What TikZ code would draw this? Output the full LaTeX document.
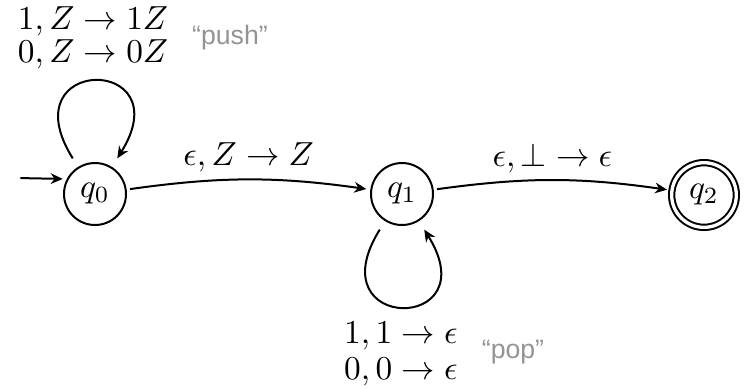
\documentclass[tikz,border=0pt]{standalone}
\usepackage{fontspec}
\newfontfamily\notefont{Liberation Sans}
\usetikzlibrary{arrows.meta}
\begin{document}
\begin{tikzpicture}[x=0.3pt,y=-0.3pt,line width=0.6pt,
  state/.style={draw,circle,minimum size=18.6pt,inner sep=0pt},
  accept/.style={state,double,double distance=1pt,minimum size=19.4pt},
  trans/.style={draw,-{Stealth[length=3.6pt,width=3.2pt]},shorten >=1.2pt,shorten <=1pt},
  note/.style={font=\notefont\footnotesize,text=black!42}]%
% pushdown automaton, positions in pixels of the sketch
\useasboundingbox (0,0) rectangle (745,388);
\node[state] (q0) at (95,194) {$q_0$};
\node[state] (q1) at (402,194) {$q_1$};
\node[accept] (q2) at (704,195) {$q_2$};
\coordinate (start) at (17,178);
\draw[trans] (start) -- (q0.152);
\path (q0) edge[trans,bend left=8] node[above,inner sep=2pt] {$\epsilon, Z \to Z$} (q1);
\path (q1) edge[trans,bend left=8] node[above,inner sep=2pt] {$\epsilon, \bot \to \epsilon$} (q2);
\path (q0) edge[trans,out=122,in=58,looseness=10,shorten <=3pt,shorten >=3pt] (q0);
\path (q1) edge[trans,out=-122,in=-58,looseness=10,shorten <=3pt,shorten >=3pt] (q1);
% stack labels
\node[align=left] (pushlbl) at (93,38) {$1, Z \to 1Z$\\[-2pt]$0, Z \to 0Z$};
\node[note] (push) at (230,38) {“push”};
\node[align=left] (poplbl) at (401,354) {$1, 1 \to \epsilon$\\[-1pt]$0, 0 \to \epsilon$};
\node[note] (pop) at (513,352) {“pop”};
\end{tikzpicture}
\end{document}
